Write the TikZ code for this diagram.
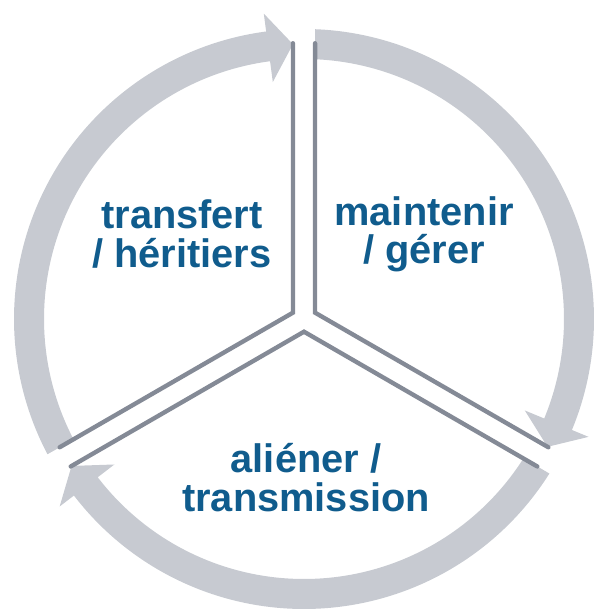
\documentclass[tikz,border=0pt]{standalone}
\usepackage{fontspec}
\setsansfont{Liberation Sans}
\usepackage{tikz}

\definecolor{ringgray}{HTML}{C7CAD1}
\definecolor{spokegray}{HTML}{848A96}
\definecolor{textblue}{HTML}{105C8D}

\begin{document}
\begin{tikzpicture}[
    ring/.style={fill=ringgray},
    spoke/.style={draw=spokegray, line width=3.1pt, line cap=round},
    phase/.style={text=textblue, font=\sffamily\bfseries\fontsize{28.3}{27.5}\selectfont, align=center}
]
    \useasboundingbox (-7.6,-7.25) rectangle (7.3,7.975);
    % the three arrows of the cycle
    \foreach \a in {90,210,330} {
        \fill[ring] (\a-2.2:7.25) arc[start angle=\a-2.2, end angle=\a-112.5, radius=7.25]
            -- (\a-112.5:7.7) -- (\a-117.7:6.875) -- (\a-112.5:5.975)
            -- (\a-112.5:6.5) arc[start angle=\a-112.5, end angle=\a-2.4, radius=6.5] -- cycle;
    }
    % borders of the three sectors
    \foreach \s in {-30,90,210} {
        \draw[spoke] (\s+2.3:6.9) -- (\s+60:0.3175) -- (\s+117.7:6.9);
    }
    \node[phase] (transfert) at (-3.05,2.12) {transfert\\/ héritiers};
    \node[phase] (maintenir) at (3.0,2.12) {maintenir\\/ gérer};
    \node[phase] (aliener) at (0.05,-3.97) {aliéner /\\transmission};
\end{tikzpicture}
\end{document}
